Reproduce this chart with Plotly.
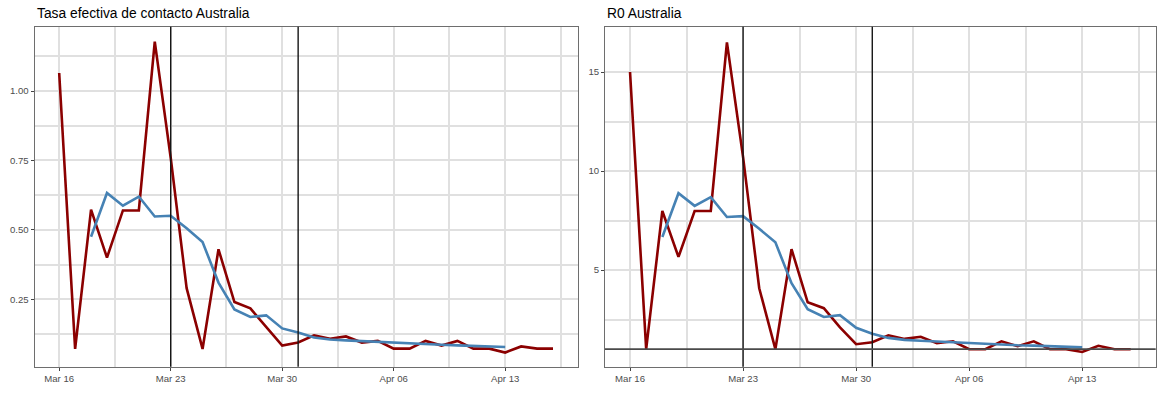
import plotly.graph_objects as go
import pandas as pd

# ---- data ----
red_dates = pd.date_range("2020-03-16", "2020-04-16", freq="D")
blue_dates = pd.date_range("2020-03-18", "2020-04-13", freq="D")

tasa_diaria = [1.065, 0.071, 0.573, 0.40, 0.57, 0.57, 1.178, 0.76, 0.29, 0.071, 0.43, 0.24,
               0.217, 0.15, 0.083, 0.094, 0.12, 0.108, 0.116, 0.094, 0.10, 0.072, 0.072,
               0.10, 0.083, 0.10, 0.072, 0.072, 0.058, 0.08, 0.072, 0.072]
tasa_suav = [0.475, 0.633, 0.587, 0.62, 0.548, 0.551, 0.506, 0.456, 0.31, 0.213, 0.186,
             0.192, 0.145, 0.13, 0.112, 0.105, 0.102, 0.099, 0.096, 0.093, 0.091, 0.089,
             0.086, 0.084, 0.082, 0.080, 0.078]

r0_diario = [15.0, 1.0, 7.98, 5.66, 7.98, 7.98, 16.5, 10.7, 4.08, 1.0, 6.05, 3.37, 3.07,
             2.1, 1.25, 1.35, 1.7, 1.52, 1.63, 1.3, 1.4, 1.0, 1.0, 1.4, 1.15, 1.4, 1.0,
             1.0, 0.86, 1.17, 1.0, 1.0]
r0_suav = [6.67, 8.88, 8.24, 8.68, 7.68, 7.72, 7.08, 6.4, 4.33, 3.02, 2.63, 2.72, 2.08,
           1.78, 1.57, 1.47, 1.43, 1.39, 1.35, 1.3, 1.27, 1.24, 1.2, 1.18, 1.15, 1.12, 1.09]

event_dates = ["2020-03-23", "2020-03-31"]
r0_ref = 1

left_ticks = [0.25, 0.50, 0.75, 1.00]
right_ticks = [5, 10, 15]

RED = "#8B0000"
BLUE = "#4682B4"
FONT = "Liberation Sans, Arial, sans-serif"
GRID = "#E0E0E0"

fig = go.Figure()
fig.add_trace(go.Scatter(x=red_dates, y=tasa_diaria, mode="lines",
                         line=dict(color=RED, width=2.6), xaxis="x", yaxis="y", showlegend=False))
fig.add_trace(go.Scatter(x=blue_dates, y=tasa_suav, mode="lines",
                         line=dict(color=BLUE, width=2.6), xaxis="x", yaxis="y", showlegend=False))
fig.add_trace(go.Scatter(x=red_dates, y=r0_diario, mode="lines",
                         line=dict(color=RED, width=2.6), xaxis="x2", yaxis="y2", showlegend=False))
fig.add_trace(go.Scatter(x=blue_dates, y=r0_suav, mode="lines",
                         line=dict(color=BLUE, width=2.6), xaxis="x2", yaxis="y2", showlegend=False))

xr = ["2020-03-14 10:48", "2020-04-17 13:12"]
week = 7 * 86400000

common_x = dict(type="date", range=xr, tick0="2020-03-16", dtick=week, tickformat="%b %d",
                showgrid=True, gridcolor=GRID, gridwidth=1.8,
                minor=dict(tick0="2020-03-12 12:00", dtick=week, showgrid=True,
                           gridcolor=GRID, gridwidth=1.6, ticks=""),
                showline=True, linecolor="#6E6E6E", linewidth=1, mirror=True,
                ticks="outside", ticklen=3, tickcolor="#444444", tickwidth=1,
                tickfont=dict(size=9.6, color="#4D4D4D", family=FONT),
                zeroline=False, fixedrange=True)
common_y = dict(showgrid=True, gridcolor=GRID, gridwidth=1.8,
                showline=True, linecolor="#6E6E6E", linewidth=1, mirror=True,
                ticks="outside", ticklen=3, tickcolor="#444444", tickwidth=1,
                tickfont=dict(size=9.6, color="#4D4D4D", family=FONT),
                zeroline=False, fixedrange=True)

ydom = [1 - 366.7 / 393, 1 - 26.7 / 393]

fig.update_layout(
    width=1169, height=393,
    margin=dict(l=0, r=0, t=0, b=0),
    paper_bgcolor="white", plot_bgcolor="white",
    font=dict(family=FONT),
    xaxis=dict(common_x, domain=[34.5 / 1169, 577.7 / 1169], anchor="y"),
    yaxis=dict(common_y, domain=ydom, anchor="x", range=[0.007, 1.232],
               tickvals=left_ticks, tickformat=".2f",
               minor=dict(tickvals=[0.125, 0.375, 0.625, 0.875, 1.125], showgrid=True,
                          gridcolor=GRID, gridwidth=1.6, ticks="")),
    xaxis2=dict(common_x, domain=[605 / 1169, 1155.7 / 1169], anchor="y2"),
    yaxis2=dict(common_y, domain=ydom, anchor="x2", range=[0.116, 17.29],
                tickvals=right_ticks,
                minor=dict(tickvals=[2.5, 7.5, 12.5], showgrid=True,
                           gridcolor=GRID, gridwidth=1.6, ticks="")),
)

for ax_x, ax_y in [("x", "y"), ("x2", "y2")]:
    for d in event_dates:
        fig.add_shape(type="line", xref=ax_x, yref=f"{ax_y} domain", x0=d, x1=d, y0=0, y1=1,
                      line=dict(color="#151515", width=1.4), layer="above")

fig.add_shape(type="line", xref="x2 domain", yref="y2", x0=0, x1=1, y0=r0_ref, y1=r0_ref,
              line=dict(color="#4A4A4A", width=1.8), layer="above")

fig.add_annotation(text="Tasa efectiva de contacto Australia", xref="paper", yref="paper",
                   x=35 / 1169, y=1 - 13 / 393, xanchor="left", yanchor="middle",
                   showarrow=False, font=dict(size=13.8, color="#000000", family=FONT))
fig.add_annotation(text="R0 Australia", xref="paper", yref="paper",
                   x=605 / 1169, y=1 - 13 / 393, xanchor="left", yanchor="middle",
                   showarrow=False, font=dict(size=13.8, color="#000000", family=FONT))

fig.write_html("out.html", config={"displayModeBar": False},
               post_script="document.body.style.margin='0';document.body.style.overflow='hidden';")
